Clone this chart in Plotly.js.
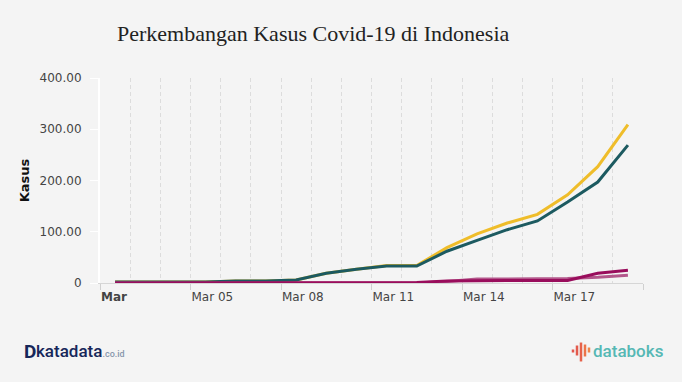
<!DOCTYPE html>
<html>
<head>
<meta charset="utf-8">
<script src="https://cdn.plot.ly/plotly-3.0.1.min.js"></script>
<style>
html,body{margin:0;padding:0;background:#f4f4f4;}
#chart{width:682px;height:382px;}
</style>
</head>
<body>
<div id="chart"></div>
<script>
// Data (Indonesia, March 2020)
var dates = ["2020-03-02 12:00","2020-03-03 12:00","2020-03-04 12:00","2020-03-05 12:00","2020-03-06 12:00","2020-03-07 12:00","2020-03-08 12:00","2020-03-09 12:00","2020-03-10 12:00","2020-03-11 12:00","2020-03-12 12:00","2020-03-13 12:00","2020-03-14 12:00","2020-03-15 12:00","2020-03-16 12:00","2020-03-17 12:00","2020-03-18 12:00","2020-03-19 12:00"];
var positif   = [2,2,2,2,4,4,6,19,27,34,34,69,96,117,134,172,227,309];
var dirawat   = [2,2,2,2,4,4,6,19,27,33,33,62,83,104,121,158,197,269];
var sembuh    = [0,0,0,0,0,0,0,0,0,0,0,3,8,8,8,9,11,15];
var meninggal = [0,0,0,0,0,0,0,0,0,1,1,4,5,5,5,5,19,25];

var xTickVals = ["2020-03-02","2020-03-05","2020-03-08","2020-03-11","2020-03-14","2020-03-17","2020-03-20"];
var xTickText = ["<b>Mar</b>","Mar 05","Mar 08","Mar 11","Mar 14","Mar 17",""];
var yTickVals = [0,100,200,300,400];
var yTickText = ["0","100.00","200.00","300.00","400.00"];

var traces = [
  {x: dates, y: positif, name: "Positif", type: "scatter", mode: "lines", line: {color: "#efbd2a", width: 3}},
  {x: dates, y: dirawat, name: "Dirawat", type: "scatter", mode: "lines", line: {color: "#1c5a60", width: 3}},
  {x: dates, y: sembuh, name: "Sembuh", type: "scatter", mode: "lines", line: {color: "#b3578b", width: 3}},
  {x: dates, y: meninggal, name: "Meninggal", type: "scatter", mode: "lines", line: {color: "#990d5c", width: 3}}
];

// logo helper: px -> paper coords
var L = 100, R = 643, T = 77.7, B = 283.3;
function px(x){ return (x - L) / (R - L); }
function py(y){ return (B - y) / (B - T); }

var iconBars = [[573,350,353,"#e2564d"],[577,346,356,"#e35a4c"],[581,343,362,"#e6624a"],[585,345,357,"#ec7448"],[589,348,353,"#f08548"]];
var shapes = iconBars.map(function(b){
  return {type:"line", xref:"paper", yref:"paper", x0:px(b[0]), x1:px(b[0]), y0:py(b[1]), y1:py(b[2]), line:{color:b[3], width:2.5}};
});

var layout = {
  width: 682, height: 382,
  paper_bgcolor: "#f4f4f4", plot_bgcolor: "#f4f4f4",
  margin: {l: L, r: 682 - R, t: T, b: 382 - B},
  showlegend: false,
  title: {
    text: "Perkembangan Kasus Covid-19 di Indonesia",
    font: {family: "Liberation Serif, serif", size: 22, color: "#222"},
    xref: "container", yref: "container",
    x: 117/682, xanchor: "left",
    y: 1 - 33/382, yanchor: "middle"
  },
  xaxis: {
    type: "date",
    range: ["2020-03-02", "2020-03-20"],
    tickmode: "array", tickvals: xTickVals, ticktext: xTickText,
    ticklabelposition: "outside right",
    ticklabelstandoff: 3,
    tickfont: {family: "DejaVu Sans, Verdana, sans-serif", size: 12, color: "#444"},
    ticks: "outside", ticklen: 6, tickcolor: "#d0d0d0", tickwidth: 1,
    showline: true, linecolor: "#d6d6d6", linewidth: 1,
    showgrid: true, gridcolor: "#dcdcdc", griddash: "4px,3px", gridwidth: 1,
    minor: {tickmode: "linear", tick0: "2020-03-02", dtick: 86400000, showgrid: true, gridcolor: "#dcdcdc", griddash: "4px,3px", gridwidth: 1, ticks: ""},
    zeroline: false, fixedrange: true
  },
  yaxis: {
    range: [0, 400],
    tickmode: "array", tickvals: yTickVals, ticktext: yTickText,
    tickfont: {family: "DejaVu Sans, Verdana, sans-serif", size: 12, color: "#444"},
    ticks: "outside", ticklen: 8, tickcolor: "#ffffff", tickwidth: 1,
    ticklabelstandoff: 6,
    showline: true, linecolor: "#ffffff", linewidth: 2,
    showgrid: false, zeroline: false,
    title: {text: "<b>Kasus</b>", font: {family: "DejaVu Sans, Verdana, sans-serif", size: 13, color: "#111"}, standoff: 7},
    fixedrange: true
  },
  shapes: shapes,
  annotations: [
    {xref: "paper", yref: "paper", x: px(22), y: py(352), xanchor: "left", yanchor: "middle", showarrow: false,
     text: "<b>D</b>", font: {family: "Roboto, sans-serif", size: 19, color: "#16275a"}},
    {xref: "paper", yref: "paper", x: px(34), y: py(352), xanchor: "left", yanchor: "middle", showarrow: false,
     text: "katadata<span style='font-size:9px;color:#8796ab'>.co.id</span>", font: {family: "Roboto, sans-serif", size: 17, color: "#16275a", weight: 500}},
    {xref: "paper", yref: "paper", x: px(591), y: py(352), xanchor: "left", yanchor: "middle", showarrow: false,
     text: "databoks", font: {family: "Roboto, sans-serif", size: 17, color: "#56b8b4", weight: 500}}
  ]
};

Plotly.newPlot("chart", traces, layout, {displayModeBar: false, staticPlot: true});
</script>
</body>
</html>
